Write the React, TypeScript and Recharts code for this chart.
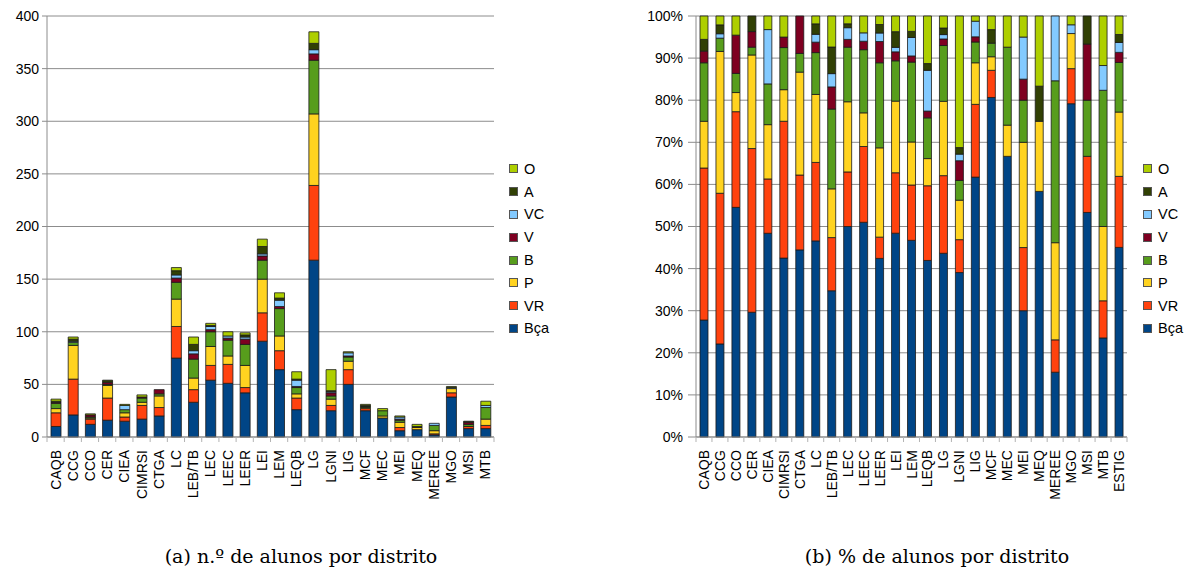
import React from "react";
import { BarChart, Bar, XAxis, YAxis, CartesianGrid } from "recharts";

// Alunos por curso e distrito (stack: Bça at the bottom, O on top)
const categories = [
  "CAQB", "CCG", "CCO", "CER", "CIEA", "CIMRSI", "CTGA", "LC", "LEB/TB",
  "LEC", "LEEC", "LEER", "LEI", "LEM", "LEQB", "LG", "LGNI", "LIG", "MCF",
  "MEC", "MEI", "MEQ", "MEREE", "MGO", "MSI", "MTB", "ESTIG",
];

const bca = [10, 21, 12, 16, 15, 17, 20, 75, 33, 54, 51, 42, 91, 64, 26, 168, 25, 50, 25, 18, 6, 7, 2, 38, 8, 8, 902];
const vr = [13, 34, 5, 21, 4, 13, 8, 30, 12, 14, 18, 5, 27, 18, 11, 71, 5, 14, 2, 0, 3, 0, 1, 4, 2, 3, 338];
const p = [4, 32, 1, 12, 4, 3, 11, 26, 11, 18, 8, 21, 32, 14, 4, 68, 6, 8, 1, 2, 5, 2, 3, 4, 0, 6, 306];
const b = [5, 3, 1, 1, 3, 4, 2, 16, 18, 14, 15, 20, 18, 26, 6, 51, 3, 4, 1, 5, 2, 0, 5, 0, 2, 11, 236];
const v = [1, 0, 2, 2, 0, 1, 4, 4, 5, 2, 2, 5, 4, 2, 1, 6, 3, 1, 0, 0, 1, 0, 0, 0, 2, 0, 48];
const vc = [0, 1, 0, 0, 4, 0, 0, 3, 3, 3, 2, 2, 2, 6, 6, 4, 1, 3, 0, 0, 2, 0, 2, 1, 0, 2, 47];
const a = [1, 2, 0, 2, 0, 0, 0, 4, 6, 1, 0, 2, 7, 2, 1, 6, 1, 0, 1, 0, 0, 1, 0, 0, 1, 0, 38];
const o = [2, 2, 1, 0, 1, 2, 0, 3, 7, 2, 4, 2, 7, 5, 7, 11, 20, 1, 1, 2, 1, 2, 0, 1, 0, 4, 88];

const countTicks = [0, 50, 100, 150, 200, 250, 300, 350, 400];
const pctTicks = [0, 0.1, 0.2, 0.3, 0.4, 0.5, 0.6, 0.7, 0.8, 0.9, 1];

const series = [
  { key: "Bça", values: bca, color: "#004586" },
  { key: "VR", values: vr, color: "#ff420e" },
  { key: "P", values: p, color: "#ffd320" },
  { key: "B", values: b, color: "#579d1c" },
  { key: "V", values: v, color: "#7e0021" },
  { key: "VC", values: vc, color: "#83caff" },
  { key: "A", values: a, color: "#314004" },
  { key: "O", values: o, color: "#aecf00" },
];

const rows = categories.map((name, i) => {
  const row: Record<string, string | number> = { name };
  series.forEach((s) => (row[s.key] = s.values[i]));
  return row;
});
const leftRows = rows.slice(0, 26);

const FONT = "'Liberation Sans', Arial, sans-serif";
const GRID = "#8c8c8c";
const H = 540;

// rotated category label + small separator tick between categories
function makeTick(band: number, count: number) {
  return (props: any) => {
    const { x, y, payload, index } = props;
    const axisY = y - 13;
    const half = band / 2;
    return (
      <g>
        <line x1={x - half} x2={x - half} y1={axisY} y2={axisY + 5} stroke="#b3b3b3" />
        {index === count - 1 && (
          <line x1={x + half} x2={x + half} y1={axisY} y2={axisY + 5} stroke="#b3b3b3" />
        )}
        <text
          x={x}
          y={y}
          dy={5}
          transform={`rotate(-90 ${x} ${y})`}
          textAnchor="end"
          fontSize={14}
          fontFamily={FONT}
          fill="#000"
        >
          {payload.value}
        </text>
      </g>
    );
  };
}

function LegendBox({ left }: { left: number }) {
  return (
    <div style={{ position: "absolute", left, top: 157.5, fontFamily: FONT, fontSize: 14.5 }}>
      {[...series].reverse().map((s) => (
        <div key={s.key} style={{ display: "flex", alignItems: "center", height: 22.8 }}>
          <span
            style={{
              width: 7,
              height: 7,
              background: s.color,
              border: "1px solid #555",
              marginRight: 6,
              display: "inline-block",
            }}
          />
          <span>{s.key}</span>
        </div>
      ))}
    </div>
  );
}

const caption: React.CSSProperties = {
  position: "absolute",
  top: 545,
  lineHeight: "22px",
  fontFamily: "'DejaVu Serif', serif",
  fontSize: 19,
  color: "#000",
  transform: "translateX(-50%)",
  whiteSpace: "nowrap",
};

export default function App() {
  return (
    <div style={{ position: "absolute", left: 0, top: 0, width: 1189, height: 570, background: "#fff" }}>
      {/* (a) counts */}
      <div style={{ position: "absolute", left: 0, top: 0 }}>
        <BarChart
          width={600}
          height={H}
          data={leftRows}
          margin={{ top: 16, right: 106, bottom: 0, left: 7 }}
          barSize={10}
        >
          <CartesianGrid vertical={false} stroke={GRID} />
          <XAxis
            dataKey="name"
            interval={0}
            height={103}
            tickLine={false}
            tickSize={0}
            tickMargin={13}
            axisLine={{ stroke: GRID }}
            tick={makeTick(447 / 26, 26)}
          />
          <YAxis
            domain={[0, 400]}
            ticks={countTicks}
            width={40}
            tickSize={5}
            tickMargin={3}
            axisLine={{ stroke: GRID }}
            tickLine={{ stroke: GRID }}
            tick={{ fontSize: 14, fontFamily: FONT, fill: "#000" }}
          />
          <YAxis yAxisId="frame" orientation="right" width={0} tick={false} tickLine={false} axisLine={{ stroke: GRID }} />
          {series.map((s) => (
            <Bar
              key={s.key}
              dataKey={s.key}
              stackId="s"
              fill={s.color}
              stroke="#1a1a1a"
              strokeWidth={0.8}
              isAnimationActive={false}
            />
          ))}
        </BarChart>
      </div>
      <LegendBox left={509} />

      {/* (b) percentages */}
      <div style={{ position: "absolute", left: 600, top: 0 }}>
        <BarChart
          width={589}
          height={H}
          data={rows}
          stackOffset="expand"
          margin={{ top: 16, right: 62, bottom: 0, left: 46 }}
          barSize={8}
        >
          <CartesianGrid vertical={false} stroke={GRID} />
          <XAxis
            dataKey="name"
            interval={0}
            height={103}
            tickLine={false}
            tickSize={0}
            tickMargin={13}
            axisLine={{ stroke: GRID }}
            tick={makeTick(431 / 27, 27)}
          />
          <YAxis
            domain={[0, 1]}
            ticks={pctTicks}
            width={50}
            tickSize={8}
            tickMargin={5}
            axisLine={{ stroke: GRID }}
            tickLine={{ stroke: GRID }}
            tickFormatter={(t: number) => `${Math.round(t * 100)}%`}
            tick={{ fontSize: 14, fontFamily: FONT, fill: "#000" }}
          />
          <YAxis yAxisId="frame" orientation="right" width={0} tick={false} tickLine={false} axisLine={{ stroke: GRID }} />
          {series.map((s) => (
            <Bar
              key={s.key}
              dataKey={s.key}
              stackId="s"
              fill={s.color}
              stroke="#1a1a1a"
              strokeWidth={0.8}
              isAnimationActive={false}
            />
          ))}
        </BarChart>
      </div>
      <LegendBox left={1143} />

      <div style={{ ...caption, left: 301 }}>(a) n.º de alunos por distrito</div>
      <div style={{ ...caption, left: 937 }}>(b) % de alunos por distrito</div>
    </div>
  );
}
